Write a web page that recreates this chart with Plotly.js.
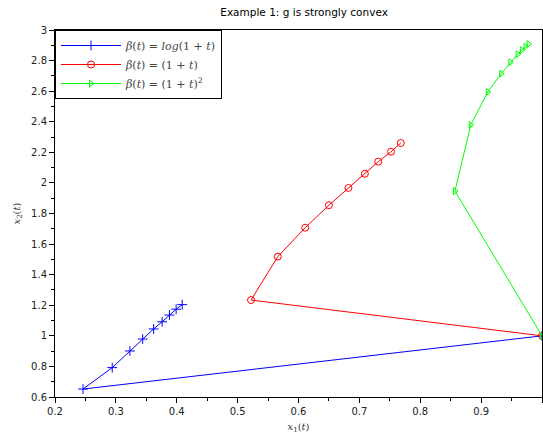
<!DOCTYPE html>
<html><head><meta charset="utf-8">
<script src="https://cdn.plot.ly/plotly-3.0.1.min.js"></script>
<style>html,body{margin:0;padding:0;background:#fff;}#chart{width:543px;height:439px;}</style>
</head><body><div id="chart"></div>
<script>
const seriesNames = ["<i>β</i>(<i>t</i>) = <i>log</i>(1 + <i>t</i>)", "<i>β</i>(<i>t</i>) = (1 + <i>t</i>)", "<i>β</i>(<i>t</i>) = (1 + <i>t</i>)<sup>2</sup>"];
const logX = [1, 0.246, 0.294, 0.323, 0.344, 0.362, 0.376, 0.388, 0.399, 0.409];
const logY = [1, 0.652, 0.792, 0.901, 0.979, 1.045, 1.092, 1.136, 1.174, 1.204];
const linX = [1, 0.522, 0.566, 0.611, 0.650, 0.682, 0.709, 0.731, 0.752, 0.768];
const linY = [1, 1.234, 1.518, 1.707, 1.854, 1.967, 2.060, 2.139, 2.204, 2.261];
const sqX = [1, 0.857, 0.883, 0.911, 0.933, 0.948, 0.960, 0.967, 0.973, 0.978];
const sqY = [1, 1.947, 2.379, 2.595, 2.714, 2.789, 2.841, 2.869, 2.891, 2.908];
const colors = ["#0000ff", "#ff0000", "#00ff00"];
const symbols = ["cross-thin-open", "circle-open", "triangle-right-open"];
const sizes = [7, 7, 6];
const xs = [logX, linX, sqX], ys = [logY, linY, sqY];
const traces = xs.map((x, i) => ({
  x: x, y: ys[i], name: seriesNames[i], type: "scatter", mode: "lines+markers",
  line: {color: colors[i], width: 1},
  marker: {symbol: symbols[i], size: sizes[i], color: colors[i], line: {color: colors[i], width: 1}},
  cliponaxis: false
}));
const tickFont = {family: "DejaVu Sans, sans-serif", size: 10, color: "#222"};
const layout = {
  width: 543, height: 439,
  margin: {l: 55, r: 1, t: 30, b: 42},
  paper_bgcolor: "#fff", plot_bgcolor: "#fff",
  title: {text: "Example 1: g is strongly convex", font: {family: "DejaVu Sans, sans-serif", size: 10.5, color: "#000"}, x: 0.56, xanchor: "center", y: 0.98, yanchor: "top"},
  showlegend: true,
  legend: {x: 0, y: 1, xanchor: "left", yanchor: "top", bgcolor: "#fff", bordercolor: "#000", borderwidth: 1,
    font: {family: "DejaVu Serif, serif", size: 11, color: "#444"}, itemwidth: 60, tracegroupgap: 0},
  xaxis: {range: [0.2, 1], dtick: 0.1, tick0: 0.2, showgrid: false, zeroline: false,
    showline: true, linecolor: "#000", linewidth: 1, mirror: true,
    ticks: "outside", ticklen: 5, tickcolor: "#000", tickfont: tickFont,
    minor: {dtick: 0.05, ticklen: 3, tickcolor: "#000", ticks: "outside"},
    title: {text: "<i>x</i><sub>1</sub>(<i>t</i>)", font: {family: "DejaVu Serif, serif", size: 10, color: "#333"}, standoff: 6}},
  yaxis: {range: [0.6, 3], dtick: 0.2, tick0: 0.6, showgrid: false, zeroline: false,
    showline: true, linecolor: "#000", linewidth: 1, mirror: true,
    ticks: "outside", ticklen: 5, tickcolor: "#000", tickfont: tickFont,
    minor: {dtick: 0.1, ticklen: 3, tickcolor: "#000", ticks: "outside"},
    title: {text: "<i>x</i><sub>2</sub>(<i>t</i>)", font: {family: "DejaVu Serif, serif", size: 10, color: "#333"}, standoff: 8}}
};
Plotly.newPlot("chart", traces, layout, {displayModeBar: false, staticPlot: true});
</script></body></html>
